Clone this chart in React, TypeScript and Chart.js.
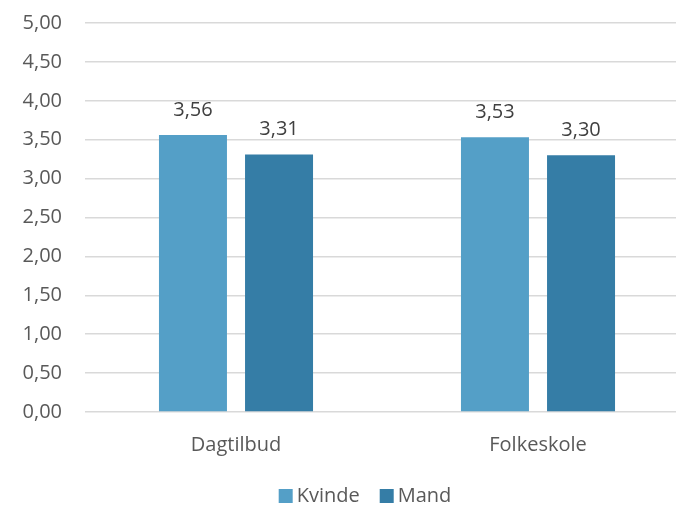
import { useEffect, useRef } from 'react';
import { Chart, registerables } from 'chart.js';

Chart.register(...registerables);

// Average scores by setting, split by gender
const categories = ['Dagtilbud', 'Folkeskole'];
const kvinde = [3.56, 3.53];
const mand = [3.31, 3.3];
const seriesNames = ['Kvinde', 'Mand'];
const seriesColors = ['#549FC7', '#357DA6'];
const yMin = 0;
const yMax = 5;
const yStep = 0.5;

const FONT = '"Open Sans", "DejaVu Sans", sans-serif';
const FONT_SIZE = 20;

// Danish decimal comma, two decimals
const fmt = (v: number) => v.toFixed(2).replace('.', ',');

// Value labels above each bar
const valueLabels = {
  id: 'valueLabels',
  afterDatasetsDraw(chart: any) {
    const ctx = chart.ctx;
    ctx.save();
    ctx.font = `${FONT_SIZE}px ${FONT}`;
    ctx.fillStyle = '#404040';
    ctx.textAlign = 'center';
    ctx.textBaseline = 'alphabetic';
    chart.data.datasets.forEach((ds: any, i: number) => {
      const meta = chart.getDatasetMeta(i);
      meta.data.forEach((bar: any, j: number) => {
        ctx.fillText(fmt(ds.data[j]), bar.x, bar.y - 19);
      });
    });
    ctx.restore();
  },
};

// Compact legend centred along the bottom edge
const bottomLegend = {
  id: 'bottomLegend',
  afterDraw(chart: any) {
    const ctx = chart.ctx;
    ctx.save();
    ctx.font = `${FONT_SIZE}px ${FONT}`;
    const box = 14;
    const gapBoxText = 4;
    const gapItems = 20;
    const items = chart.data.datasets.map((ds: any) => ({
      label: ds.label as string,
      color: ds.backgroundColor as string,
      w: ctx.measureText(ds.label).width,
    }));
    const total =
      items.reduce((s: number, it: any) => s + box + gapBoxText + it.w, 0) +
      gapItems * (items.length - 1);
    let x = chart.width / 2 - total / 2;
    const cy = chart.height - 10;
    ctx.textAlign = 'left';
    ctx.textBaseline = 'middle';
    items.forEach((it: any) => {
      ctx.fillStyle = it.color;
      ctx.fillRect(x, cy - box / 2, box, box);
      x += box + gapBoxText;
      ctx.fillStyle = '#595959';
      ctx.fillText(it.label, x, cy);
      x += it.w + gapItems;
    });
    ctx.restore();
  },
};

export default function App() {
  const canvasRef = useRef<HTMLCanvasElement | null>(null);

  useEffect(() => {
    const canvas = canvasRef.current;
    if (!canvas) return;
    const chart = new Chart(canvas, {
      type: 'bar',
      data: {
        labels: categories,
        datasets: [
          {
            label: seriesNames[0],
            data: kvinde,
            backgroundColor: seriesColors[0],
            categoryPercentage: 0.57,
            barPercentage: 0.79,
          },
          {
            label: seriesNames[1],
            data: mand,
            backgroundColor: seriesColors[1],
            categoryPercentage: 0.57,
            barPercentage: 0.79,
          },
        ],
      },
      options: {
        responsive: false,
        animation: false,
        layout: { padding: { top: 23, right: 41, bottom: 34, left: 0 } },
        plugins: {
          legend: { display: false },
          tooltip: { enabled: false },
        },
        scales: {
          x: {
            grid: { display: false },
            border: { display: false },
            ticks: {
              color: '#595959',
              font: { family: FONT, size: FONT_SIZE },
              padding: 13,
              maxRotation: 0,
            },
            afterFit(scale: any) {
              scale.height = 60;
              scale.paddingTop = 0;
              scale.paddingBottom = 0;
            },
          },
          y: {
            min: yMin,
            max: yMax,
            grid: { color: '#d9d9d9', lineWidth: 1.5, drawTicks: false },
            border: { display: false },
            ticks: {
              stepSize: yStep,
              color: '#595959',
              font: { family: FONT, size: FONT_SIZE },
              padding: 23,
              callback: (v: any) => fmt(Number(v)),
            },
            afterFit(scale: any) {
              scale.width = 85;
              scale.paddingTop = 0;
              scale.paddingBottom = 0;
            },
          },
        },
      },
      plugins: [valueLabels, bottomLegend],
    });
    return () => chart.destroy();
  }, []);

  return (
    <div
      style={{
        position: 'fixed',
        left: 0,
        top: 0,
        width: 730,
        height: 506,
        overflow: 'hidden',
        background: '#ffffff',
      }}
    >
      <canvas ref={canvasRef} width={730} height={506} />
    </div>
  );
}
